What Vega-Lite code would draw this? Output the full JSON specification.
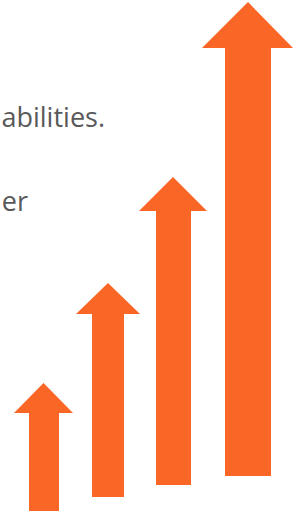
{
  "$schema": "https://vega.github.io/schema/vega-lite/v6.json",
  "width": 301,
  "height": 514,
  "padding": 0,
  "autosize": {"type": "fit", "contains": "padding"},
  "background": "white",
  "config": {"view": {"stroke": null}},
  "datasets": {
    "shafts": [
      {"arrow": 1, "left": 29, "right": 59, "top": 412, "bottom": 511},
      {"arrow": 2, "left": 92, "right": 124, "top": 313, "bottom": 497},
      {"arrow": 3, "left": 156, "right": 191, "top": 210, "bottom": 485},
      {"arrow": 4, "left": 225, "right": 271, "top": 47, "bottom": 476}
    ],
    "heads": [
      {"arrow": 1, "x": 14, "y": 413, "base": 413},
      {"arrow": 1, "x": 43.5, "y": 383, "base": 413},
      {"arrow": 1, "x": 73, "y": 413, "base": 413},
      {"arrow": 2, "x": 76, "y": 314, "base": 314},
      {"arrow": 2, "x": 108, "y": 283, "base": 314},
      {"arrow": 2, "x": 140, "y": 314, "base": 314},
      {"arrow": 3, "x": 139, "y": 211, "base": 211},
      {"arrow": 3, "x": 173, "y": 177, "base": 211},
      {"arrow": 3, "x": 207, "y": 211, "base": 211},
      {"arrow": 4, "x": 202, "y": 48, "base": 48},
      {"arrow": 4, "x": 248, "y": 2, "base": 48},
      {"arrow": 4, "x": 293, "y": 48, "base": 48}
    ],
    "texts": [
      {"label": "abilities.", "x": 105, "y": 127},
      {"label": "er", "x": 28, "y": 211}
    ]
  },
  "layer": [
    {
      "data": {"name": "shafts"},
      "mark": {"type": "rect", "color": "#F96625"},
      "encoding": {
        "x": {"field": "left", "type": "quantitative", "scale": {"domain": [0, 301], "nice": false, "zero": false}, "axis": null},
        "x2": {"field": "right"},
        "y": {"field": "top", "type": "quantitative", "scale": {"domain": [0, 514], "nice": false, "zero": false, "reverse": true}, "axis": null},
        "y2": {"field": "bottom"}
      }
    },
    {
      "data": {"name": "heads"},
      "mark": {"type": "area", "color": "#F96625", "interpolate": "linear"},
      "encoding": {
        "x": {"field": "x", "type": "quantitative", "axis": null},
        "y": {"field": "y", "type": "quantitative", "axis": null},
        "y2": {"field": "base"},
        "detail": {"field": "arrow", "type": "nominal"}
      }
    },
    {
      "data": {"name": "texts"},
      "mark": {"type": "text", "align": "right", "baseline": "alphabetic", "font": "Open Sans", "fontSize": 27, "color": "#595959"},
      "encoding": {
        "x": {"field": "x", "type": "quantitative", "axis": null},
        "y": {"field": "y", "type": "quantitative", "axis": null},
        "text": {"field": "label"}
      }
    }
  ]
}
